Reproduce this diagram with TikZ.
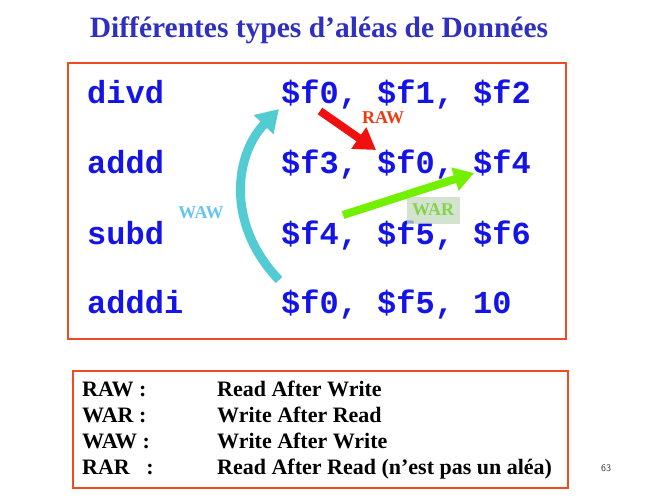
\documentclass[tikz,border=0pt]{standalone}
\usepackage{fontspec}
\setmainfont{Liberation Serif}
\setmonofont{Liberation Mono}
\usetikzlibrary{arrows.meta}
\definecolor{titleblue}{HTML}{3030C0}
\definecolor{codeblue}{HTML}{1414E6}
\definecolor{frame}{HTML}{F04A22}
\definecolor{rawred}{HTML}{F01010}
\definecolor{rawtext}{HTML}{F03A10}
\definecolor{wawcyan}{HTML}{52CCD2}
\definecolor{wawtext}{HTML}{66C4F0}
\definecolor{wargreen}{HTML}{72F000}
\definecolor{wartext}{HTML}{84D44A}
\definecolor{warbg}{HTML}{C6D8C0}
\tikzset{
  code/.style={anchor=base west, inner sep=0pt, text=codeblue,
    font=\fontsize{32}{32}\selectfont\ttfamily\bfseries},
  legend/.style={anchor=base west, inner sep=0pt, text=black,
    font=\fontsize{22}{22}\selectfont\bfseries},
  tag/.style={inner sep=1pt, font=\fontsize{18}{18}\selectfont\bfseries},
  framebox/.style={draw=frame, line width=2.5pt},
  hazard/.style={line width=#1, line cap=butt},
}
\begin{document}
\begin{tikzpicture}[x=1pt, y=-1pt]
\useasboundingbox (0,0) rectangle (663,497);

% title
\node[anchor=base, inner sep=0pt, text=titleblue,
  font=\fontsize{29.5}{29.5}\selectfont\bfseries] (title) at (319,38)
  {Différentes types d’aléas de Données};

% instruction listing
\draw[framebox] (68,63) rectangle (566,339);
\node[code] (op1) at (87,104) {divd};
\node[code] (op2) at (87,174) {addd};
\node[code] (op3) at (87,244) {subd};
\node[code] (op4) at (87,313) {adddi};
\node[code] (ar1) at (281,104) {\$f0, \$f1, \$f2};
\node[code] (ar2) at (281,174) {\$f3, \$f0, \$f4};
\node[code] (ar3) at (281,244) {\$f4, \$f5, \$f6};
\node[code] (ar4) at (281,313) {\$f0, \$f5, 10};

% dependency arrows
\coordinate (rawA) at (320,111);
\coordinate (rawB) at (376,150);
\draw[hazard=8pt, rawred, -{Triangle[length=21pt, width=25pt]}] (rawA) -- (rawB);
\node[tag, text=rawtext] (rawlbl) at (383,118) {RAW};

\coordinate (wawA) at (279,280);
\coordinate (wawB) at (279,109);
\draw[hazard=9pt, wawcyan, -{Triangle[length=22pt, width=26pt]}]
  (wawA) .. controls (224,222) and (236,153) .. (wawB);
\node[tag, text=wawtext] (wawlbl) at (201,213) {WAW};

\coordinate (warA) at (343,215);
\coordinate (warB) at (474,173);
\node[tag, fill=warbg, fill opacity=0.75, text opacity=1, text=wartext,
  minimum width=53pt, minimum height=27pt] (warlbl) at (433,210) {WAR};
\draw[hazard=8pt, wargreen, -{Triangle[length=20pt, width=23pt]}] (warA) -- (warB);

% legend
\draw[framebox] (73,371) rectangle (568,488);
\node[legend] (k1) at (82,396) {RAW :};
\node[legend] (k2) at (82,422) {WAR :};
\node[legend] (k3) at (82,448) {WAW :};
\node[legend] (k4) at (82,474) {RAR\ \ \ :};
\node[legend] (d1) at (217,396) {Read After Write};
\node[legend] (d2) at (217,422) {Write After Read};
\node[legend] (d3) at (217,448) {Write After Write};
\node[legend] (d4) at (217,474) {Read After Read (n’est pas un aléa)};

% page number
\node[inner sep=0pt, text=black!80, font=\fontsize{10}{10}\selectfont\sffamily]
  (page) at (606,468) {63};
\end{tikzpicture}
\end{document}
